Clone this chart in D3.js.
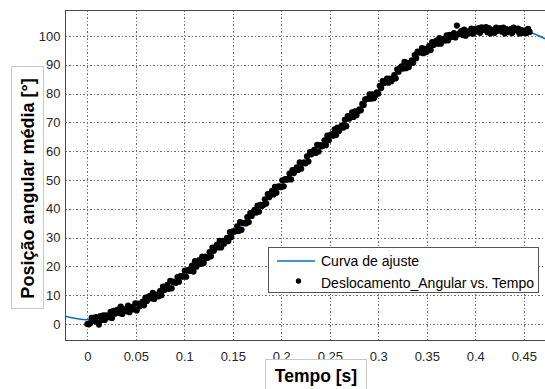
<!DOCTYPE html>
<html>
<head>
<meta charset="utf-8">
<script src="https://cdn.jsdelivr.net/npm/d3@7"></script>
<style>
  body { margin: 0; background: #fff; }
  svg { display: block; }
  text { font-family: "Liberation Sans", Arial, sans-serif; }
</style>
</head>
<body>
<div id="chart"></div>
<script>
const xTicks = [0, 0.05, 0.1, 0.15, 0.2, 0.25, 0.3, 0.35, 0.4, 0.45];
const yTicks = [0, 10, 20, 30, 40, 50, 60, 70, 80, 90, 100];

// medições (amostras pares): tempo [s] e deslocamento angular [°]
const tempo = [
  0, 0.003, 0.006, 0.009, 0.012, 0.015, 0.018, 0.021, 0.024, 0.027,
  0.030, 0.033, 0.036, 0.039, 0.042, 0.045, 0.048, 0.051, 0.054, 0.057,
  0.060, 0.063, 0.066, 0.069, 0.072, 0.075, 0.078, 0.081, 0.084, 0.087,
  0.090, 0.093, 0.096, 0.099, 0.102, 0.105, 0.108, 0.111, 0.114, 0.117,
  0.120, 0.123, 0.126, 0.129, 0.132, 0.135, 0.138, 0.141, 0.144, 0.147,
  0.150, 0.153, 0.156, 0.159, 0.162, 0.165, 0.168, 0.171, 0.174, 0.177,
  0.180, 0.183, 0.186, 0.189, 0.192, 0.195, 0.198, 0.201, 0.204, 0.207,
  0.210, 0.213, 0.216, 0.219, 0.222, 0.225, 0.228, 0.231, 0.234, 0.237,
  0.240, 0.243, 0.246, 0.249, 0.252, 0.255, 0.258, 0.261, 0.264, 0.267,
  0.270, 0.273, 0.276, 0.279, 0.282, 0.285, 0.288, 0.291, 0.294, 0.297,
  0.300, 0.303, 0.306, 0.309, 0.312, 0.315, 0.318, 0.321, 0.324, 0.327,
  0.330, 0.333, 0.336, 0.339, 0.342, 0.345, 0.348, 0.351, 0.354, 0.357,
  0.360, 0.363, 0.366, 0.369, 0.372, 0.375, 0.378, 0.381, 0.384, 0.387,
  0.390, 0.393, 0.396, 0.399, 0.402, 0.405, 0.408, 0.411, 0.414, 0.417,
  0.420, 0.423, 0.426, 0.429, 0.432, 0.435, 0.438, 0.441, 0.444, 0.447,
  0.450, 0.453, 0.456
];
const deslocamento = [
  0.0, 0.3, 2.1, 2.4, -0.2, 1.4, 1.4, 2.6, 4.2, 4.6,
  4.7, 3.8, 3.5, 5.0, 6.4, 5.9, 5.1, 4.7, 6.2, 7.8,
  9.2, 9.4, 8.9, 8.7, 9.9, 11.4, 13.0, 12.6, 12.2, 12.4,
  14.4, 16.3, 16.6, 16.4, 16.4, 18.6, 20.3, 21.8, 21.3, 20.9,
  21.2, 22.9, 25.0, 26.5, 26.5, 26.6, 26.6, 27.9, 29.9, 31.9,
  32.2, 32.2, 32.3, 32.7, 35.1, 37.1, 38.5, 38.6, 38.7, 39.0,
  41.0, 43.3, 45.1, 45.2, 45.0, 45.6, 47.8, 49.9, 50.3, 50.3,
  50.2, 52.4, 54.4, 56.1, 55.8, 55.8, 56.4, 58.9, 60.5, 62.2,
  62.1, 61.9, 62.1, 63.8, 65.9, 67.6, 68.2, 68.1, 68.2, 68.7,
  71.3, 73.5, 73.8, 73.8, 74.2, 76.0, 78.1, 79.7, 79.7, 79.4,
  80.0, 81.9, 83.7, 85.2, 85.2, 85.1, 85.3, 87.6, 89.5, 91.0,
  90.7, 90.5, 90.7, 92.3, 94.4, 95.8, 95.5, 95.0, 95.1, 96.9,
  98.4, 99.3, 98.9, 98.4, 98.5, 99.8, 101.0, 103.6, 101.0, 100.3,
  100.1, 101.4, 102.6, 102.4, 101.6, 101.1, 102.2, 103.1, 102.7, 101.6,
  101.1, 101.8, 102.7, 102.9, 102.4, 101.3, 101.0, 102.0, 102.6, 102.1,
  101.2, 101.0, 101.4
];

// medições (amostras ímpares)
const tempo2 = [
  0.0015, 0.0045, 0.0075, 0.0105, 0.0135, 0.0165, 0.0195, 0.0225, 0.0255, 0.0285,
  0.0315, 0.0345, 0.0375, 0.0405, 0.0435, 0.0465, 0.0495, 0.0525, 0.0555, 0.0585,
  0.0615, 0.0645, 0.0675, 0.0705, 0.0735, 0.0765, 0.0795, 0.0825, 0.0855, 0.0885,
  0.0915, 0.0945, 0.0975, 0.1005, 0.1035, 0.1065, 0.1095, 0.1125, 0.1155, 0.1185,
  0.1215, 0.1245, 0.1275, 0.1305, 0.1335, 0.1365, 0.1395, 0.1425, 0.1455, 0.1485,
  0.1515, 0.1545, 0.1575, 0.1605, 0.1635, 0.1665, 0.1695, 0.1725, 0.1755, 0.1785,
  0.1815, 0.1845, 0.1875, 0.1905, 0.1935, 0.1965, 0.1995, 0.2025, 0.2055, 0.2085,
  0.2115, 0.2145, 0.2175, 0.2205, 0.2235, 0.2265, 0.2295, 0.2325, 0.2355, 0.2385,
  0.2415, 0.2445, 0.2475, 0.2505, 0.2535, 0.2565, 0.2595, 0.2625, 0.2655, 0.2685,
  0.2715, 0.2745, 0.2775, 0.2805, 0.2835, 0.2865, 0.2895, 0.2925, 0.2955, 0.2985,
  0.3015, 0.3045, 0.3075, 0.3105, 0.3135, 0.3165, 0.3195, 0.3225, 0.3255, 0.3285,
  0.3315, 0.3345, 0.3375, 0.3405, 0.3435, 0.3465, 0.3495, 0.3525, 0.3555, 0.3585,
  0.3615, 0.3645, 0.3675, 0.3705, 0.3735, 0.3765, 0.3795, 0.3825, 0.3855, 0.3885,
  0.3915, 0.3945, 0.3975, 0.4005, 0.4035, 0.4065, 0.4095, 0.4125, 0.4155, 0.4185,
  0.4215, 0.4245, 0.4275, 0.4305, 0.4335, 0.4365, 0.4395, 0.4425, 0.4455, 0.4485,
  0.4515, 0.4545
];
const deslocamento2 = [
  -0.1, 2.1, 1.0, 0.6, 2.7, 3.0, 3.0, 2.3, 2.1, 3.6,
  5.0, 6.0, 5.2, 4.4, 4.1, 5.8, 7.2, 7.1, 6.6, 6.5,
  8.0, 9.8, 10.8, 10.2, 9.6, 10.0, 11.8, 13.6, 15.0, 14.7,
  14.3, 14.7, 16.6, 18.5, 18.7, 18.4, 18.2, 19.9, 22.2, 23.4,
  23.4, 23.1, 23.5, 25.4, 27.5, 28.9, 28.9, 28.6, 28.8, 30.2,
  32.1, 33.9, 35.4, 35.0, 34.9, 35.4, 37.5, 39.6, 41.1, 41.4,
  41.3, 41.8, 44.0, 46.2, 47.6, 47.7, 47.5, 47.8, 50.1, 52.2,
  53.4, 53.5, 53.5, 53.9, 56.1, 58.2, 59.7, 59.6, 59.4, 59.9,
  61.7, 63.8, 65.4, 65.6, 65.4, 65.6, 67.0, 69.0, 70.9, 72.2,
  72.0, 71.9, 72.5, 74.5, 76.4, 78.0, 78.2, 78.2, 78.4, 80.4,
  82.7, 84.3, 84.0, 83.8, 84.3, 86.4, 88.4, 88.9, 88.7, 88.8,
  89.2, 91.5, 93.4, 94.6, 94.3, 94.0, 94.4, 96.6, 97.9, 97.9,
  97.3, 97.3, 99.0, 100.2, 100.4, 99.7, 99.5, 100.6, 101.7, 102.2,
  101.6, 101.0, 100.8, 101.8, 102.7, 103.0, 102.2, 101.3, 100.9, 102.1,
  102.9, 102.5, 101.5, 100.9, 101.6, 102.4, 102.9, 102.0, 100.9, 101.1,
  102.0, 102.5
];

// curva de ajuste
const tempoAjuste = [-0.023, 0, 0.025, 0.05, 0.075, 0.1, 0.125, 0.15, 0.175, 0.2, 0.225,
  0.25, 0.275, 0.3, 0.325, 0.35, 0.375, 0.4, 0.425, 0.45, 0.4565, 0.473];
const curvaAjuste = [2.7, 1.5, 3.2, 6.3, 10.9, 16.9, 23.9, 31.4, 39.6, 48.2, 56.6,
  64.8, 72.9, 81.1, 88.7, 95.2, 99.8, 101.9, 102.3, 101.9, 101.3, 98.9];

const W = 545, H = 389;
const box = { left: 65.5, top: 10.5, right: 546, bottom: 340.5 };

const svg = d3.select("#chart").append("svg")
  .attr("width", W).attr("height", H);

const x = d3.scaleLinear().domain([-0.02247, 0.4729]).range([box.left, box.right]);
const y = d3.scaleLinear().domain([-5.73, 108.85]).range([box.bottom, box.top]);

svg.append("clipPath").attr("id", "clip")
  .append("rect")
  .attr("x", box.left).attr("y", box.top)
  .attr("width", box.right - box.left).attr("height", box.bottom - box.top);

// grid
const grid = svg.append("g").attr("class", "grid");
grid.append("g")
  .attr("transform", "translate(0," + box.bottom + ")")
  .call(d3.axisBottom(x).tickValues(xTicks).tickSize(-(box.bottom - box.top)).tickFormat(""));
grid.append("g")
  .attr("transform", "translate(" + box.left + ",0)")
  .call(d3.axisLeft(y).tickValues(yTicks).tickSize(-(box.right - box.left)).tickFormat(""));
grid.selectAll(".domain").remove();
grid.selectAll(".tick line")
  .attr("stroke", "#6e6e6e")
  .attr("stroke-dasharray", "1.5,2")
  .attr("shape-rendering", "crispEdges");

// axis box
svg.append("path")
  .attr("d", "M" + box.right + "," + box.top + "H" + box.left + "V" + box.bottom + "H" + box.right)
  .attr("fill", "none").attr("stroke", "#4a4a4a").attr("stroke-width", 1)
  .attr("shape-rendering", "crispEdges");

// tick labels
const xAx = svg.append("g")
  .attr("transform", "translate(0," + box.bottom + ")")
  .call(d3.axisBottom(x).tickValues(xTicks).tickSize(0).tickPadding(11).tickFormat(d => String(d)));
const yAx = svg.append("g")
  .attr("transform", "translate(" + box.left + ",0)")
  .call(d3.axisLeft(y).tickValues(yTicks).tickSize(0).tickPadding(5).tickFormat(d => String(d)));
[xAx, yAx].forEach(a => {
  a.select(".domain").remove();
  a.selectAll("text").attr("fill", "#262626").style("font-size", "13px");
});

// data
const plot = svg.append("g").attr("clip-path", "url(#clip)");

plot.append("path")
  .datum(tempoAjuste.map((t, i) => [t, curvaAjuste[i]]))
  .attr("fill", "none")
  .attr("stroke", "#0072BD")
  .attr("stroke-width", 1.5)
  .attr("d", d3.line().x(d => x(d[0])).y(d => y(d[1])).curve(d3.curveCatmullRom));

const pontos = tempo.map((t, i) => [t, deslocamento[i]])
  .concat(tempo2.map((t, i) => [t, deslocamento2[i]]));

plot.selectAll(".dot")
  .data(pontos)
  .enter().append("circle")
  .attr("class", "dot")
  .attr("cx", d => x(d[0]))
  .attr("cy", d => y(d[1]))
  .attr("r", 3.1)
  .attr("fill", "#000");

// legend
const lg = svg.append("g");
lg.append("rect")
  .attr("x", 268.5).attr("y", 247.5).attr("width", 270).attr("height", 45)
  .attr("fill", "#fff").attr("stroke", "#555").attr("stroke-width", 1);
lg.append("line")
  .attr("x1", 277).attr("x2", 315).attr("y1", 261).attr("y2", 261)
  .attr("stroke", "#0072BD").attr("stroke-width", 1.5);
lg.append("circle").attr("cx", 298.5).attr("cy", 281).attr("r", 2.7).attr("fill", "#000");
lg.append("text").attr("x", 321).attr("y", 266).style("font-size", "14px").attr("fill", "#000")
  .text("Curva de ajuste");
lg.append("text").attr("x", 321).attr("y", 287.5).style("font-size", "14px").attr("fill", "#000")
  .text("Deslocamento_Angular vs. Tempo");

// axis titles with boxes
svg.append("rect")
  .attr("x", 265.5).attr("y", 359.5).attr("width", 101).attr("height", 40)
  .attr("fill", "#fff").attr("stroke", "#c8c8c8");
svg.append("text")
  .attr("x", 316).attr("y", 381.5)
  .attr("text-anchor", "middle")
  .style("font-size", "17.5px").style("font-weight", "bold").attr("fill", "#000")
  .text("Tempo [s]");

svg.append("rect")
  .attr("x", 11.5).attr("y", 66.5).attr("width", 32).attr("height", 242)
  .attr("fill", "#fff").attr("stroke", "#c8c8c8");
svg.append("text")
  .attr("transform", "translate(33.5,188.5) rotate(-90)")
  .attr("text-anchor", "middle")
  .style("font-size", "18px").style("font-weight", "bold").attr("fill", "#000")
  .text("Posição angular média [°]");
</script>
</body>
</html>
